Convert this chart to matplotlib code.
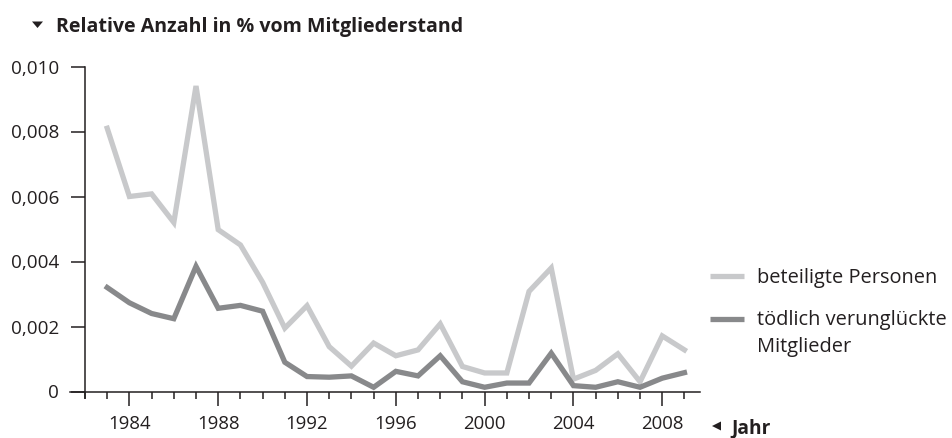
import matplotlib
matplotlib.use("Agg")
import matplotlib.pyplot as plt
from matplotlib.ticker import MultipleLocator
from matplotlib.lines import Line2D
from matplotlib.patches import Polygon

years = list(range(1983, 2010))
beteiligte = [0.0081, 0.0060, 0.00608, 0.0052, 0.0094, 0.00498, 0.00451, 0.00336, 0.00195,
              0.00264, 0.00138, 0.00078, 0.00149, 0.0011, 0.00128, 0.00208, 0.00077, 0.00057,
              0.00057, 0.00308, 0.0038, 0.00038, 0.00065, 0.00116, 0.0003, 0.00171, 0.00128]
toedlich = [0.0032, 0.00273, 0.0024, 0.00224, 0.00385, 0.00256, 0.00265, 0.00247, 0.0009,
            0.00046, 0.00044, 0.00048, 0.00013, 0.00062, 0.00048, 0.0011, 0.0003, 0.00013,
            0.00026, 0.00026, 0.00118, 0.00018, 0.00013, 0.0003, 0.00013, 0.00041, 0.00058]
y_ticks = [0, 0.002, 0.004, 0.006, 0.008, 0.010]
y_labels = ["0", "0,002", "0,004", "0,006", "0,008", "0,010"]
x_ticks = [1984, 1988, 1992, 1996, 2000, 2004, 2008]
series_labels = ["beteiligte Personen", "tödlich verunglückte\nMitglieder"]

plt.rcParams['font.family'] = ['Open Sans', 'DejaVu Sans']
txt = '#231f20'
light = '#c8c9cb'
dark = '#88898b'
W, H = 952, 438

def fx(px):
    return px / W

def fy(py):
    return 1 - py / H

fig = plt.figure(figsize=(9.52, 4.38), dpi=100)
ax = fig.add_axes([fx(85), fy(391.5), fx(700) - fx(85), fy(66.5) - fy(391.5)])
ax.plot(years, beteiligte, color=light, lw=3.8, solid_joinstyle='miter')
ax.plot(years, toedlich, color=dark, lw=3.8, solid_joinstyle='miter')

ax.set_xlim(1982.0, 2009.7)
ax.set_ylim(0, 0.010)
ax.set_yticks(y_ticks)
ax.set_yticklabels(y_labels)
ax.set_xticks(x_ticks)
ax.xaxis.set_minor_locator(MultipleLocator(1))
for s in ['top', 'right']:
    ax.spines[s].set_visible(False)
for s in ['left', 'bottom']:
    ax.spines[s].set_color(txt)
    ax.spines[s].set_linewidth(1.1)
ax.spines['left'].set_bounds(-0.0002, 0.010)
ax.spines['bottom'].set_bounds(1981.33, 2009.7)
ax.tick_params(axis='y', which='major', direction='out', length=10, width=1.1, color=txt,
               labelsize=13.6, labelcolor=txt, pad=8.5)
ax.tick_params(axis='x', which='major', direction='out', length=10, width=1.1, color=txt,
               labelsize=13.4, labelcolor=txt, pad=7.0)
ax.tick_params(axis='x', which='minor', direction='out', length=4.7, width=1.1, color=txt)

# title with small down-pointing triangle
fig.add_artist(Polygon([[fx(32), fy(21.5)], [fx(43), fy(21.5)], [fx(37.5), fy(28)]],
                       closed=True, transform=fig.transFigure, facecolor=txt, edgecolor='none'))
fig.text(fx(56), fy(32), 'Relative Anzahl in % vom Mitgliederstand', fontsize=14.1,
         fontweight='bold', color=txt, va='baseline', ha='left')

# axis label "Jahr" with left-pointing triangle
fig.add_artist(Polygon([[fx(712), fy(426)], [fx(721), fy(421.5)], [fx(721), fy(430.5)]],
                       closed=True, transform=fig.transFigure, facecolor=txt, edgecolor='none'))
fig.text(fx(731.5), fy(433), 'Jahr', fontsize=13.8, fontweight='bold', color=txt,
         va='baseline', ha='left')

# legend
line_step = 26.7
for col, ly, tb, lab in [(light, 275.5, 283, series_labels[0]),
                         (dark, 318.5, 325, series_labels[1])]:
    fig.add_artist(Line2D([fx(710), fx(744)], [fy(ly), fy(ly)], transform=fig.transFigure,
                          color=col, lw=3.8, solid_capstyle='butt'))
    for i, part in enumerate(lab.split('\n')):
        fig.text(fx(757), fy(tb + i * line_step), part, fontsize=14.4, color=txt,
                 va='baseline', ha='left')

fig.savefig('out.png', dpi=100)
